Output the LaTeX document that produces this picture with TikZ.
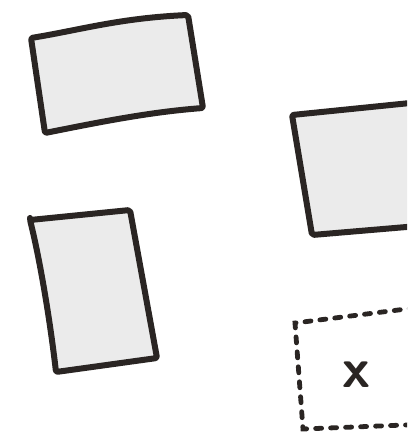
\documentclass[tikz,border=0pt]{standalone}
\usepackage{xcolor}
\usepackage{tikz}
\usetikzlibrary{calc}
\definecolor{cardfill}{HTML}{EBEBEB}
\definecolor{inkline}{HTML}{2A2523}

\begin{document}
\begin{tikzpicture}[
    x=1pt, y=-1pt,
    card/.style={draw=inkline, fill=cardfill, line width=6pt, line join=round, rounded corners=2pt},
    slot/.style={draw=inkline, line width=4.8pt, line cap=round, dash pattern=on 6pt off 9pt}
]
\useasboundingbox (0,0) rectangle (407,436);
\clip (0,0) rectangle (407,436);
% Top card
\coordinate (ta) at (31,38);
\coordinate (tb) at (188,15);
\coordinate (tc) at (203,108);
\coordinate (td) at (45,133);
\draw[card] (ta) .. controls (80,30) and (120,18) .. (tb) -- (tc) .. controls (150,112) and (100,122) .. (td) -- cycle;

% Right card
\coordinate (ra) at (292,115);
\coordinate (rb) at (430,101);
\coordinate (rc) at (430,225);
\coordinate (rd) at (312,235);
\draw[card] (ra) -- (rb) -- (rc) -- (rd) -- cycle;

% Lower card
\coordinate (la) at (30,220);
\coordinate (lb) at (130,210);
\coordinate (lc) at (157,358);
\coordinate (ld) at (56,372);
\draw[card] (la) -- (lb) -- (lc) -- (ld) .. controls (50,320) and (40,260) .. cycle;

% Empty slot
\coordinate (sa) at (430,306);
\coordinate (sb) at (295,323);
\coordinate (sc) at (303,429);
\coordinate (sd) at (430,424);
\draw[slot] (sa) -- (sb) -- (sc) -- (sd);
\node[font=\sffamily\bfseries\fontsize{56}{56}\selectfont, text=inkline, inner sep=0pt] (sx) at (356,375) {x};
\end{tikzpicture}
\end{document}
